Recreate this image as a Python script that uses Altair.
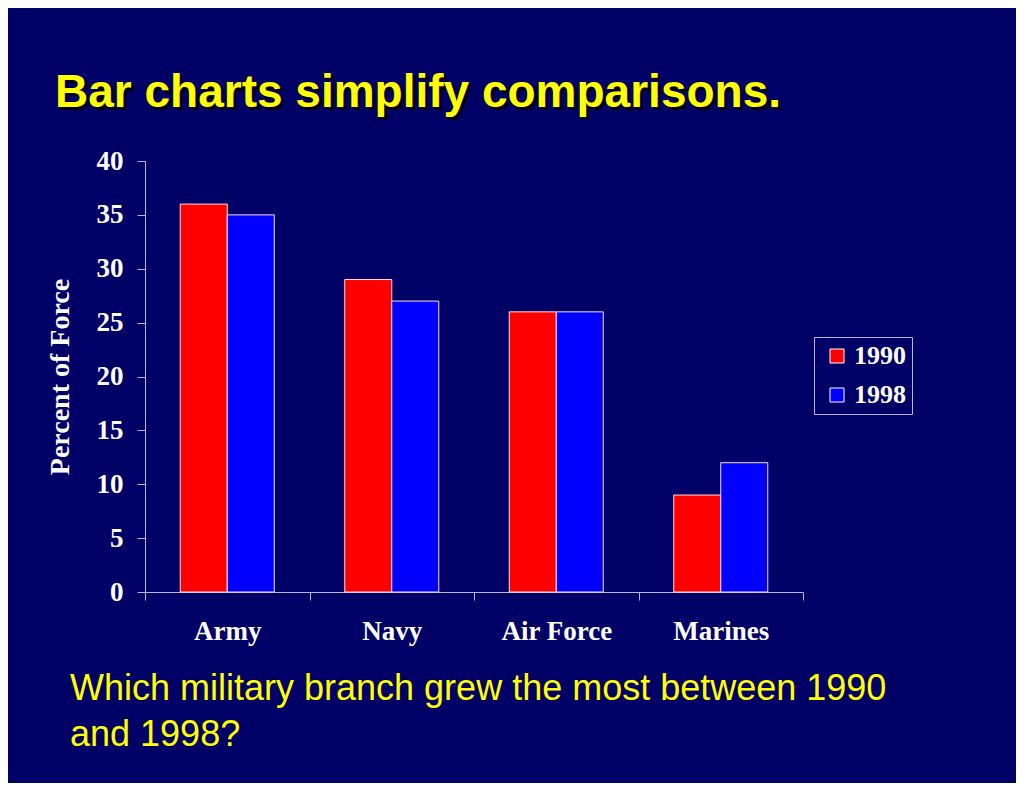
import altair as alt
import pandas as pd

categories = ["Army", "Navy", "Air Force", "Marines"]
years = ["1990", "1998"]
v1990 = [36, 29, 26, 9]
v1998 = [35, 27, 26, 12]
colors = ["#FF0000", "#0000FF"]

title_text = "Bar charts simplify comparisons."
question_lines = ["Which military branch grew the most between 1990", "and 1998?"]

rows = []
for c, a, b in zip(categories, v1990, v1998):
    rows.append({"branch": c, "year": years[0], "value": a})
    rows.append({"branch": c, "year": years[1], "value": b})
df = pd.DataFrame(rows)

BG = "#000066"
AX = "#b8b8d0"
W, H = 658, 431

bars = alt.Chart(df).mark_bar(stroke="#ffdddd", strokeWidth=1).encode(
    x=alt.X("branch:N", sort=categories,
            scale=alt.Scale(paddingInner=0, paddingOuter=0),
            axis=alt.Axis(title=None, labelAngle=0, labelFont="Liberation Serif",
                          labelFontWeight="bold", labelFontSize=27, labelColor="white",
                          labelPadding=18, tickBand="extent", tickSize=8,
                          domainColor=AX, tickColor=AX, labelBaseline="top")),
    xOffset=alt.XOffset("year:N", scale=alt.Scale(paddingOuter=0.75, paddingInner=0)),
    y=alt.Y("value:Q", scale=alt.Scale(domain=[0, 40]),
            axis=alt.Axis(title="Percent of Force", values=list(range(0, 41, 5)),
                          grid=False, tickSize=8, labelPadding=14,
                          labelFont="Liberation Serif", labelFontWeight="bold",
                          labelFontSize=27, labelColor="white",
                          titleFont="Liberation Serif", titleFontWeight="bold",
                          titleFontSize=28, titleColor="white", titlePadding=22,
                          domainColor=AX, tickColor=AX)),
    color=alt.Color("year:N", scale=alt.Scale(domain=years, range=colors),
                    legend=alt.Legend(title=None, orient="none", legendX=669, legendY=176,
                                      symbolType="square", symbolSize=196,
                                      symbolStrokeColor="white", symbolStrokeWidth=1,
                                      symbolOffset=4, labelOffset=4,
                                      labelFont="Liberation Serif", labelFontWeight="bold",
                                      labelFontSize=26, labelColor="white",
                                      rowPadding=13, padding=6,
                                      strokeColor=AX, fillColor=BG)),
)

tdf = pd.DataFrame({"t": [title_text]})
title_shadow = alt.Chart(tdf).mark_text(
    font="Liberation Sans", fontWeight="bold", fontSize=46, color="#000000",
    align="left", baseline="alphabetic"
).encode(x=alt.value(-87), y=alt.value(-51), text="t:N")
title = alt.Chart(tdf).mark_text(
    font="Liberation Sans", fontWeight="bold", fontSize=46, color="#FFFF00",
    align="left", baseline="alphabetic"
).encode(x=alt.value(-90), y=alt.value(-54), text="t:N")

qdf = pd.DataFrame({"q": ["\n".join(question_lines)]})
question = alt.Chart(qdf).mark_text(
    font="Liberation Sans", fontSize=36, color="#FFFF00", align="left",
    baseline="alphabetic", lineBreak="\n", lineHeight=46
).encode(x=alt.value(-75), y=alt.value(539), text="q:N")

chart = alt.layer(bars, title_shadow, title, question).properties(
    width=W, height=H,
    background=BG,
    padding={"left": 137, "top": 153, "right": 213, "bottom": 191},
    autosize=alt.AutoSizeParams(type="none"),
).configure_view(stroke=None)

chart.save("out.html", embed_options={"renderer": "svg", "actions": False})
